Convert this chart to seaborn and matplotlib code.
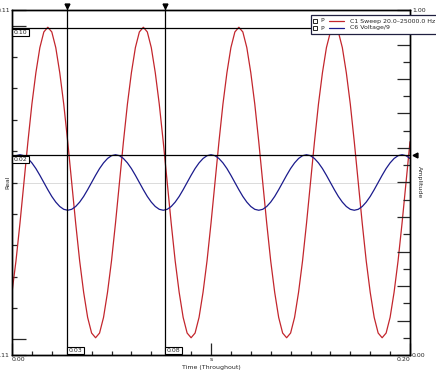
import numpy as np
import pandas as pd
import seaborn as sns
import matplotlib.pyplot as plt
import matplotlib.ticker as mticker
import matplotlib.transforms as mtransforms
from matplotlib.patches import Rectangle
from matplotlib.lines import Line2D

# -----------------------------
# Data
# -----------------------------
# one sample every 2 ms, 0 .. 0.2 s
time_s = np.linspace(0.0, 0.2, 101)

sweep_c1 = [
    -0.070, -0.050, -0.026, 0.000, 0.026, 0.050, 0.070, 0.086, 0.096, 0.099, 0.096, 0.086,
    0.070, 0.050, 0.026, 0.000, -0.026, -0.050, -0.070, -0.086, -0.096, -0.099, -0.096, -0.086,
    -0.070, -0.050, -0.026, 0.000, 0.026, 0.050, 0.070, 0.086, 0.096, 0.099, 0.096, 0.086,
    0.070, 0.050, 0.026, 0.000, -0.026, -0.050, -0.070, -0.086, -0.096, -0.099, -0.096, -0.086,
    -0.070, -0.050, -0.026, 0.000, 0.026, 0.050, 0.070, 0.086, 0.096, 0.099, 0.096, 0.086,
    0.070, 0.050, 0.026, 0.000, -0.026, -0.050, -0.070, -0.086, -0.096, -0.099, -0.096, -0.086,
    -0.070, -0.050, -0.026, 0.000, 0.026, 0.050, 0.070, 0.086, 0.096, 0.099, 0.096, 0.086,
    0.070, 0.050, 0.026, 0.000, -0.026, -0.050, -0.070, -0.086, -0.096, -0.099, -0.096, -0.086,
    -0.070, -0.050, -0.026, 0.000, 0.026,
]

voltage_c6 = [
    0.0153, 0.0171, 0.0177, 0.0171, 0.0153, 0.0125, 0.0089, 0.0046, 0.0000, -0.0046, -0.0089, -0.0125,
    -0.0153, -0.0171, -0.0177, -0.0171, -0.0153, -0.0125, -0.0089, -0.0046, 0.0000, 0.0046, 0.0089, 0.0125,
    0.0153, 0.0171, 0.0177, 0.0171, 0.0153, 0.0125, 0.0089, 0.0046, 0.0000, -0.0046, -0.0089, -0.0125,
    -0.0153, -0.0171, -0.0177, -0.0171, -0.0153, -0.0125, -0.0089, -0.0046, 0.0000, 0.0046, 0.0089, 0.0125,
    0.0153, 0.0171, 0.0177, 0.0171, 0.0153, 0.0125, 0.0089, 0.0046, 0.0000, -0.0046, -0.0089, -0.0125,
    -0.0153, -0.0171, -0.0177, -0.0171, -0.0153, -0.0125, -0.0089, -0.0046, 0.0000, 0.0046, 0.0089, 0.0125,
    0.0153, 0.0171, 0.0177, 0.0171, 0.0153, 0.0125, 0.0089, 0.0046, 0.0000, -0.0046, -0.0089, -0.0125,
    -0.0153, -0.0171, -0.0177, -0.0171, -0.0153, -0.0125, -0.0089, -0.0046, 0.0000, 0.0046, 0.0089, 0.0125,
    0.0153, 0.0171, 0.0177, 0.0171, 0.0153,
]

series_names = ["C1 Sweep 20.0\u201325000.0 Hz", "C6 Voltage/9"]
series_colors = ["#c3262d", "#1b1b8c"]

# cursor positions
cursor_t = [0.0276, 0.0769]
cursor_y = [0.0988, 0.0177]

x_tick_vals = [0.0, 0.1, 0.2]
x_tick_labels = ["0.00", "s", "0.20"]
y_tick_vals = [-0.11, -0.10, 0.10, 0.11]
y_tick_labels = ["-0.11", "", "", "0.11"]

df = pd.DataFrame({
    "t": np.concatenate([time_s, time_s]),
    "value": sweep_c1 + voltage_c6,
    "series": [series_names[0]] * len(time_s) + [series_names[1]] * len(time_s),
})

# -----------------------------
# Figure
# -----------------------------
sns.set_style("white")
plt.rcParams["font.family"] = ["DejaVu Sans"]
FS = 4.5

fig = plt.figure(figsize=(4.36, 3.79), dpi=100)
ax = fig.add_axes([12 / 436, 1 - 355 / 379, 398 / 436, 345 / 379])

ax.axhline(0, color="#d6d6d6", lw=0.6, zorder=0)

sns.lineplot(data=df, x="t", y="value", hue="series", hue_order=series_names,
             palette=series_colors, lw=0.9, legend=False, ax=ax)

ax.set_xlim(0, 0.2)
ax.set_ylim(-0.11, 0.11)

for s in ax.spines.values():
    s.set_color("black")
    s.set_linewidth(1.0)

# bottom axis
ax.set_xticks(x_tick_vals)
ax.set_xticklabels(x_tick_labels)
ax.xaxis.set_minor_locator(mticker.MultipleLocator(0.01))
ax.tick_params(axis="x", which="major", direction="in", length=8.6, width=0.9,
               pad=1.5, labelsize=FS, bottom=True, top=False)
ax.tick_params(axis="x", which="minor", direction="in", length=3, width=0.9,
               bottom=True, top=False)
lbls = ax.get_xticklabels()
lbls[0].set_ha("left")
lbls[-1].set_ha("right")
ax.set_xlabel("Time (Throughout)", fontsize=FS, labelpad=2)

# left axis
ax.set_yticks(y_tick_vals)
ax.set_yticklabels(y_tick_labels)
ax.yaxis.set_minor_locator(mticker.MultipleLocator(0.02))
ax.tick_params(axis="y", which="major", direction="in", length=10, width=0.9,
               pad=1.5, labelsize=FS, left=True, right=False)
ax.tick_params(axis="y", which="minor", direction="in", length=3.6, width=0.9,
               left=True, right=False)
ax.set_ylabel("")
ax.text(-0.011, 0.5, "Real", transform=ax.transAxes, rotation=90,
        ha="center", va="center", fontsize=FS)

# right axis (Amplitude 0..1)
ax2 = ax.twinx()
ax2.set_ylim(0, 1)
ax2.yaxis.set_major_locator(mticker.MultipleLocator(0.1))
ax2.yaxis.set_minor_locator(mticker.MultipleLocator(0.05))
ax2.yaxis.set_major_formatter(mticker.FuncFormatter(
    lambda v, p: f"{v:.2f}" if abs(v) < 1e-9 or abs(v - 1) < 1e-9 else ""))
ax2.tick_params(axis="y", which="major", direction="in", length=9.4, width=0.9,
                pad=1.5, labelsize=FS)
ax2.tick_params(axis="y", which="minor", direction="in", length=5, width=0.9)
for s in ax2.spines.values():
    s.set_color("black")
    s.set_linewidth(1.0)
ax.text(1.025, 0.5, "Amplitude", transform=ax.transAxes, rotation=270,
        ha="center", va="center", fontsize=FS)

# -----------------------------
# Cursors
# -----------------------------
xblend = ax.get_xaxis_transform()
yblend = ax.get_yaxis_transform()
box = dict(boxstyle="square,pad=0.2", fc="white", ec="black", lw=0.8)

for t in cursor_t:
    ax.plot([t, t], [0, 1.013], color="black", lw=0.9, transform=xblend, clip_on=False, zorder=4)
    ax.plot([t], [1.013], marker="v", color="black", ms=3.5, transform=xblend, clip_on=False, zorder=4)
    ax.annotate(f"{t:.2f}", xy=(t, 0), xycoords=xblend, xytext=(1.2, 1.6),
                textcoords="offset points", ha="left", va="bottom", fontsize=FS,
                bbox=box, zorder=6)

for y in cursor_y:
    ax.axhline(y, color="black", lw=0.9, zorder=4)
    ax.annotate(f"{y:.2f}", xy=(0, y), xycoords=yblend, xytext=(1.2, -1.6),
                textcoords="offset points", ha="left", va="top", fontsize=FS,
                bbox=box, zorder=6)
ax.plot([1.012], [cursor_y[1]], marker="<", color="black", ms=3.5,
        transform=yblend, clip_on=False, zorder=4)

# -----------------------------
# Legend box (scope style)
# -----------------------------
fig.add_artist(Rectangle((311 / 436, 1 - 34 / 379), 130 / 436, 19 / 379,
                         transform=fig.transFigure, fc="white", ec="#202040",
                         lw=0.9, zorder=5))
rows_y = [1 - 21 / 379, 1 - 28 / 379]
for name, col, yy in zip(series_names, series_colors, rows_y):
    fig.add_artist(Line2D([314.5 / 436], [yy], marker="s", ms=2.6, mfc="white",
                          mec="black", mew=0.6, ls="none", zorder=6))
    fig.text(320 / 436, yy, "P", fontsize=FS, ha="left", va="center", zorder=6)
    fig.add_artist(Line2D([329 / 436, 344 / 436], [yy, yy], color=col, lw=0.9, zorder=6))
    fig.text(350 / 436, yy, name, fontsize=FS, ha="left", va="center", zorder=6)

fig.savefig("out.png", dpi=100)
plt.close()
